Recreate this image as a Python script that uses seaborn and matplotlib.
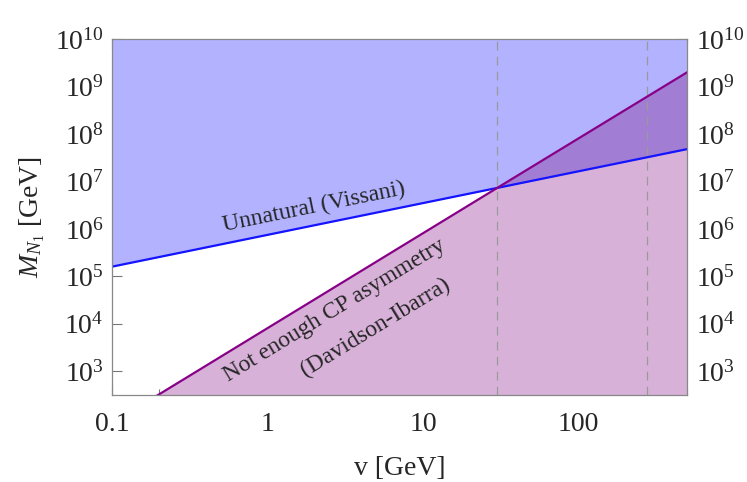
import numpy as np
import pandas as pd
import seaborn as sns
from matplotlib import pyplot as plt
from matplotlib.ticker import (LogLocator, NullLocator, NullFormatter, FixedLocator,
                               FixedFormatter, LogFormatterSciNotation)

# values
v_pts = [0.1, 30, 500]
m_unnatural = [1.6e5, 7.3e6, 4.8e7]
m_cp = [81, 7.3e6, 2.0e9]
v_dashed = [30, 275]
x_ticks = [0.1, 1, 10, 100]
x_ticklabels = ['0.1', '1', '10', '100']
y_ticks = [1e3, 1e4, 1e5, 1e6, 1e7, 1e8, 1e9, 1e10]
y_lo, y_hi = 10 ** 2.5, 1e10

sns.set_style('ticks')
plt.rcParams['font.family'] = ['Liberation Serif', 'DejaVu Serif']
plt.rcParams['mathtext.fontset'] = 'custom'
plt.rcParams['mathtext.rm'] = 'Liberation Serif'
plt.rcParams['mathtext.it'] = 'Liberation Serif:italic'

df = pd.DataFrame({'v': v_pts, 'unnatural': m_unnatural, 'cp': m_cp})

fig = plt.figure(figsize=(7.47, 4.82), dpi=100)
ax = fig.add_axes([0.150, 0.1805, 0.770, 0.7385])
ax.set_xscale('log')
ax.set_yscale('log')

v = np.array(v_pts)
mu = np.array(m_unnatural)
mc = np.array(m_cp)
ax.fill_between(v, mu, y_hi, color='#b2b2ff', lw=0)
ax.fill_between(v, y_lo / 10, mc, color='#d8b1d9', lw=0)
ax.fill_between(v, mu, np.maximum(mc, mu), color='#a17dd3', lw=0)

for xv in v_dashed:
    ax.axvline(xv, color='#9a9a9a', lw=0.9, dashes=(7, 5))

sns.lineplot(data=df, x='v', y='unnatural', ax=ax, color='#1414ff', lw=1.6)
sns.lineplot(data=df, x='v', y='cp', ax=ax, color='#870087', lw=1.6)

ax.set_xlim(0.1, 500)
ax.set_ylim(y_lo, y_hi)

ax.text(2.0, 2.9e6, 'Unnatural (Vissani)', fontsize=17, rotation=11.5,
        ha='center', va='center', rotation_mode='anchor')
ax.text(2.7, 1.9e4, 'Not enough CP asymmetry', fontsize=17, rotation=31.4,
        ha='center', va='center', rotation_mode='anchor')
ax.text(4.95, 8.5e3, '(Davidson-Ibarra)', fontsize=17, rotation=31.4,
        ha='center', va='center', rotation_mode='anchor')

ax.xaxis.set_major_locator(FixedLocator(x_ticks))
ax.xaxis.set_major_formatter(FixedFormatter(x_ticklabels))
ax.xaxis.set_minor_locator(LogLocator(base=10, subs=np.arange(2, 10)))
ax.xaxis.set_minor_formatter(NullFormatter())
ax.yaxis.set_major_locator(FixedLocator(y_ticks))
ax.yaxis.set_major_formatter(LogFormatterSciNotation())
ax.yaxis.set_minor_locator(NullLocator())

ax.tick_params(which='both', direction='in', top=True, right=True,
               labelright=True, color='#777777', labelsize=20, pad=6)
ax.tick_params(axis='x', which='major', pad=12)
ax.tick_params(which='major', length=7, width=0.8)
ax.tick_params(which='minor', length=4, width=0.8)
for sp in ax.spines.values():
    sp.set_color('#888888')
    sp.set_linewidth(0.9)

ax.set_xlabel('v [GeV]', fontsize=20, labelpad=14)
ax.set_ylabel('$M_{N_1}$ [GeV]', fontsize=20, labelpad=6)

fig.savefig('out.png', dpi=100)
